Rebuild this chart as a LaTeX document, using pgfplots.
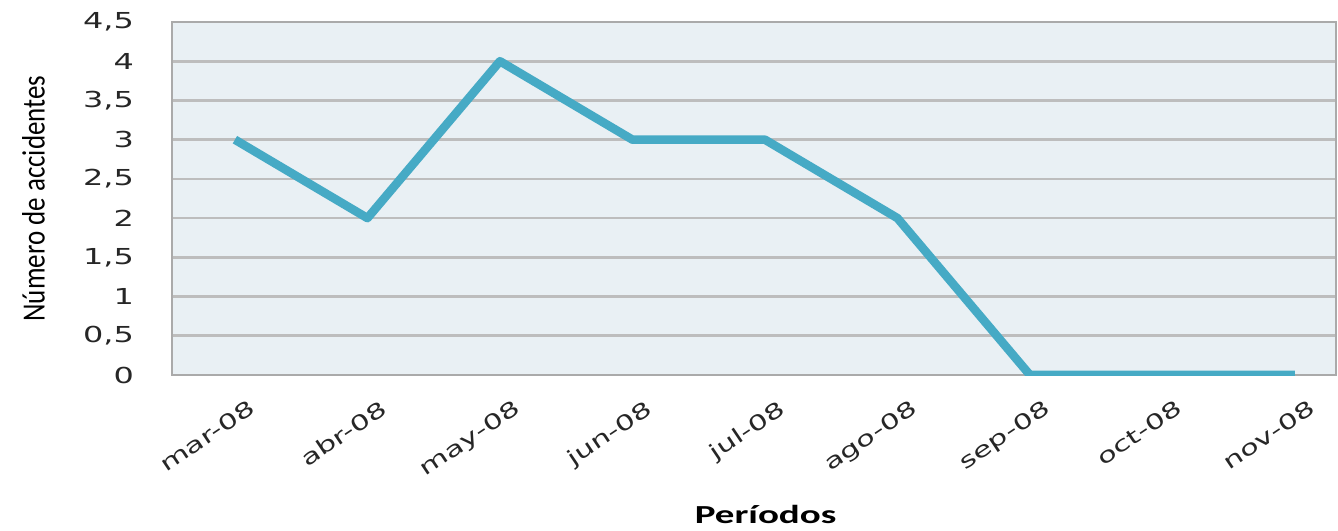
\documentclass[border=0pt]{standalone}
\usepackage{fontspec}
\setmainfont{DejaVu Sans}[FakeStretch=1.45]
\newfontfamily\calib{Carlito}
\newfontfamily\calibw{Carlito}[FakeStretch=1.5]
\usepackage{pgfplots}
\pgfplotsset{compat=1.18}
\definecolor{bgc}{HTML}{E9F0F4}
\definecolor{gridc}{HTML}{BDBDBD}
\definecolor{linec}{HTML}{46AAC5}
\begin{document}
\begin{tikzpicture}
\begin{axis}[
  at={(0,0)}, anchor=south west,
  scale only axis, width=582pt, height=176.5pt,
  xmin=-0.475, xmax=8.31, ymin=0, ymax=4.5,
  xtick={0,...,8},
  xticklabels={mar-08,abr-08,may-08,jun-08,jul-08,ago-08,sep-08,oct-08,nov-08},
  ytick={0,0.5,...,4.5},
  /pgf/number format/assume math mode=true,
  /pgf/number format/use comma,
  yticklabel style={font=\fontsize{11}{12}\selectfont, text=black!85, anchor=east, xshift=-15.5pt},
  xticklabel style={font=\fontsize{10.5}{12}\selectfont, text=black!85, rotate=34, anchor=north east, xshift=2pt, yshift=-10pt},
  tick style={draw=none},
  axis background/.style={fill=bgc},
  ymajorgrids, grid style={gridc, line width=1.3pt},
  axis line style={gridc!90!black, line width=1.3pt},
  xlabel={\calibw\bfseries Períodos},
  xlabel style={at={(axis description cs:0.51,-0.394)}, anchor=center, font=\fontsize{13}{15}\selectfont},
  ylabel={\calib\scalebox{1}[1.2]{Número de accidentes}},
  ylabel style={at={(axis description cs:-0.119,0.5)}, anchor=center, rotate=0, font=\fontsize{13.5}{15}\selectfont},
]
\addplot[linec, line width=4.3pt, line join=round, mark=none] coordinates {
(0,3) (1,2) (2,4) (3,3) (4,3) (5,2) (6,0) (7,0) (8,0)
};
\end{axis}
\pgfresetboundingbox
\path[use as bounding box] (-86pt,-77.5pt) rectangle (583pt,187.5pt);
\end{tikzpicture}
\end{document}
